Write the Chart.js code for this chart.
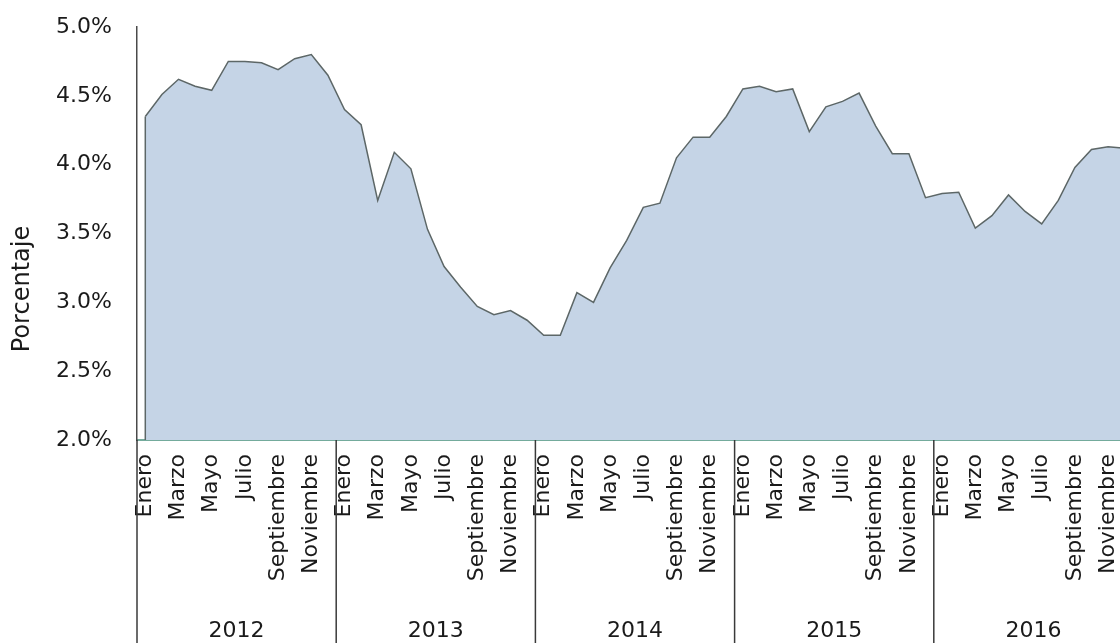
<!DOCTYPE html>
<html lang="es">
<head>
<meta charset="utf-8">
<title>Porcentaje mensual 2012-2016</title>
<script src="https://cdn.jsdelivr.net/npm/chart.js@4/dist/chart.umd.min.js"></script>
<style>
  html, body { margin: 0; padding: 0; background: #ffffff; overflow: hidden; }
  #wrap { position: absolute; left: 0; top: 0; width: 1133px; height: 643px; }
</style>
</head>
<body>
<div id="wrap"><canvas id="chart" width="1133" height="643"></canvas></div>
<script>
// Month names shown on the axis (every other month gets a label)
const months = ['Enero', 'Febrero', 'Marzo', 'Abril', 'Mayo', 'Junio',
                'Julio', 'Agosto', 'Septiembre', 'Octubre', 'Noviembre', 'Diciembre'];
const years = ['2012', '2013', '2014', '2015', '2016'];

// Monthly values (%) per year
const values2012 = [4.35, 4.51, 4.62, 4.57, 4.54, 4.75, 4.75, 4.74, 4.69, 4.77, 4.80, 4.65];
const values2013 = [4.40, 4.29, 3.74, 4.09, 3.97, 3.53, 3.26, 3.11, 2.97, 2.91, 2.94, 2.87];
const values2014 = [2.76, 2.76, 3.07, 3.00, 3.25, 3.45, 3.69, 3.72, 4.05, 4.20, 4.20, 4.35];
const values2015 = [4.55, 4.57, 4.53, 4.55, 4.24, 4.42, 4.46, 4.52, 4.28, 4.08, 4.08, 3.76];
const values2016 = [3.79, 3.80, 3.54, 3.63, 3.78, 3.66, 3.57, 3.74, 3.98, 4.11, 4.13, 4.12];

// Y axis range and tick spacing (%)
const yMin = 2.0;
const yMax = 5.0;
const yStep = 0.5;

const labels = [];
years.forEach(y => months.forEach(m => labels.push(m + ' ' + y)));
const series = [].concat(values2012, values2013, values2014, values2015, values2016);

const FONT = "'DejaVu Sans', 'Liberation Sans', sans-serif";
const LINE_COLOR = '#5d6767';

// Year group separators and labels under the month axis, plus the vertical axis title
const groupAxis = {
  id: 'groupAxis',
  afterDatasetsDraw(chart) {
    const { ctx, chartArea, scales: { x, y } } = chart;
    // close the left side of the filled area
    const x0 = x.getPixelForValue(0);
    ctx.save();
    ctx.strokeStyle = LINE_COLOR;
    ctx.lineWidth = 1.5;
    ctx.beginPath();
    ctx.moveTo(x0, y.getPixelForValue(series[0]));
    ctx.lineTo(x0, chartArea.bottom);
    ctx.stroke();
    ctx.restore();
  },
  afterDraw(chart) {
    const { ctx, chartArea, scales: { x } } = chart;
    const step = x.getPixelForValue(1) - x.getPixelForValue(0);
    ctx.save();
    ctx.strokeStyle = '#3a3a3a';
    ctx.lineWidth = 1.5;
    ctx.fillStyle = '#1a1a1a';
    ctx.font = '22px ' + FONT;
    ctx.textAlign = 'center';
    ctx.textBaseline = 'alphabetic';
    years.forEach((yr, k) => {
      const left = x.getPixelForValue(k * 12) - step / 2;
      const right = left + 12 * step;
      ctx.beginPath();
      ctx.moveTo(left, chartArea.bottom);
      ctx.lineTo(left, chart.height);
      ctx.stroke();
      ctx.fillText(yr, (left + right) / 2, 637);
    });
    // axis title
    ctx.translate(23, 289);
    ctx.rotate(-Math.PI / 2);
    ctx.font = '24px ' + FONT;
    ctx.textBaseline = 'middle';
    ctx.fillText('Porcentaje', 0, 0);
    ctx.restore();
  }
};

new Chart(document.getElementById('chart'), {
  type: 'line',
  data: {
    labels: labels,
    datasets: [{
      data: series,
      fill: 'start',
      backgroundColor: 'rgb(197, 212, 230)',
      borderColor: LINE_COLOR,
      borderWidth: 1.5,
      pointRadius: 0,
      tension: 0
    }]
  },
  options: {
    responsive: false,
    animation: false,
    devicePixelRatio: 1,
    layout: { padding: { top: 27, left: 0, right: 0, bottom: 0 } },
    plugins: {
      legend: { display: false },
      tooltip: { enabled: false }
    },
    scales: {
      x: {
        type: 'category',
        offset: true,
        grid: { display: false, drawTicks: false },
        border: { display: true, color: '#74ab9c', width: 2 },
        ticks: {
          autoSkip: false,
          minRotation: 90,
          maxRotation: 90,
          padding: 14,
          color: '#1a1a1a',
          font: { family: FONT, size: 22 },
          callback: (v, i) => (i % 2 === 0 ? months[i % 12] : '')
        },
        afterFit(scale) {
          scale.height = 203;
          scale.paddingLeft = 0;
          scale.paddingRight = 0;
        }
      },
      y: {
        min: yMin,
        max: yMax,
        grid: { display: false, drawTicks: false },
        border: { display: true, color: '#4a4a4a', width: 1.5 },
        ticks: {
          stepSize: yStep,
          padding: 25,
          color: '#1a1a1a',
          font: { family: FONT, size: 22 },
          callback: v => v.toFixed(1) + '%'
        },
        afterFit(scale) {
          scale.width = 137;
          scale.paddingTop = 0;
          scale.paddingBottom = 0;
        }
      }
    }
  },
  plugins: [groupAxis]
});
</script>
</body>
</html>
